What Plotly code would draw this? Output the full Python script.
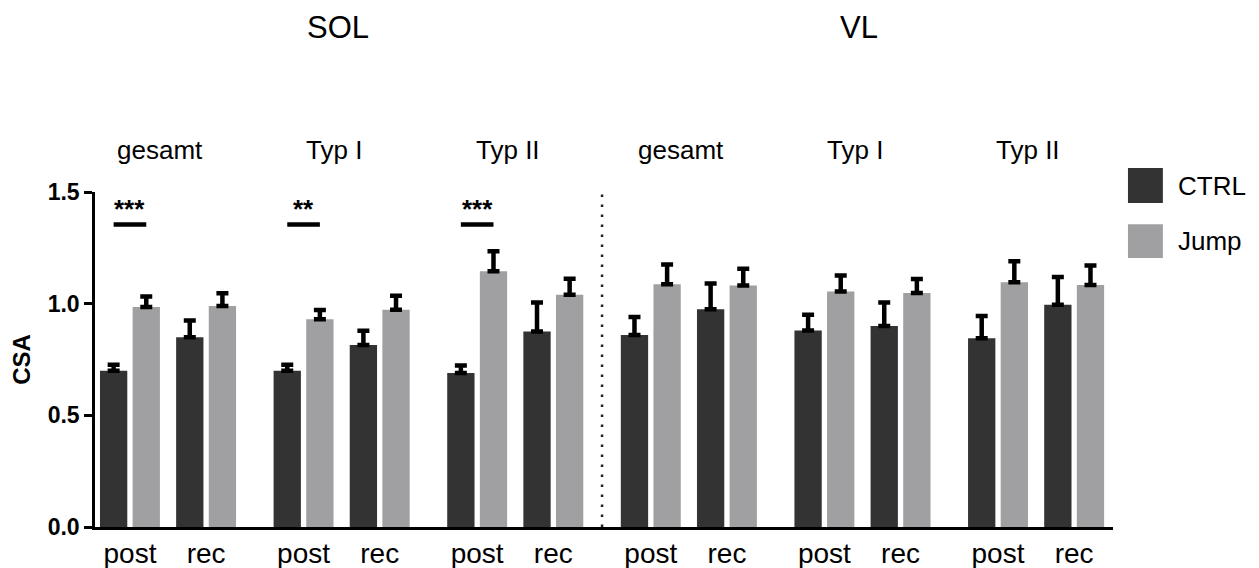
import plotly.graph_objects as go

# ---------------- data ----------------
muscles = ["SOL", "VL"]
fiber_types = ["gesamt", "Typ I", "Typ II"]
timepoints = ["post", "rec"]
series_names = ["CTRL", "Jump"]

# order: SOL gesamt post, rec | SOL Typ I post, rec | SOL Typ II post, rec | VL gesamt ... | VL Typ II
ctrl_mean = [0.70, 0.85, 0.70, 0.815, 0.69, 0.875, 0.86, 0.975, 0.88, 0.90, 0.845, 0.995]
ctrl_sem = [0.027, 0.075, 0.027, 0.064, 0.033, 0.13, 0.08, 0.115, 0.07, 0.105, 0.10, 0.124]
jump_mean = [0.985, 0.99, 0.93, 0.973, 1.145, 1.04, 1.087, 1.081, 1.054, 1.048, 1.096, 1.084]
jump_sem = [0.047, 0.057, 0.042, 0.063, 0.09, 0.072, 0.088, 0.075, 0.072, 0.062, 0.094, 0.087]
significance = ["***", "", "**", "", "***", "", "", "", "", "", "", ""]

y_ticks = [0.0, 0.5, 1.0, 1.5]

# ---------------- layout constants ----------------
FONT = "Arial, 'Liberation Sans', sans-serif"
CTRL_COLOR = "#333333"
JUMP_COLOR = "#a0a0a3"
GROUP_STEP = 2.28
BARGAP = 0.143
BARGROUPGAP = 0.163
n_groups = len(muscles) * len(fiber_types)
PAGE_OFFSET = 8  # default body margin of the html page

xpos = [g * GROUP_STEP + t for g in range(n_groups) for t in range(len(timepoints))]
ticktext = [timepoints[t] for g in range(n_groups) for t in range(len(timepoints))]
slot = (1 - BARGAP) / 2
bar_offset = slot / 2

fig = go.Figure()
for name, mean, sem, color in [
    (series_names[0], ctrl_mean, ctrl_sem, CTRL_COLOR),
    (series_names[1], jump_mean, jump_sem, JUMP_COLOR),
]:
    fig.add_trace(go.Bar(
        x=xpos, y=mean, name=name, marker=dict(color=color, line=dict(width=0)),
        error_y=dict(type="data", symmetric=False, array=sem, arrayminus=[0] * len(sem),
                     color="black", thickness=4.5, width=6),
        showlegend=False,
    ))

shapes = []
annotations = []

# significance markers
for x, s in zip(xpos, significance):
    if s:
        shapes.append(dict(type="line", xref="x", yref="y", x0=x - bar_offset, x1=x + bar_offset,
                           y0=1.354, y1=1.354, line=dict(color="black", width=4.5)))
        annotations.append(dict(x=x, y=1.425, xref="x", yref="y", text=s, showarrow=False,
                                font=dict(family=FONT, size=26, color="black", weight="bold"),
                                yanchor="middle"))

# dotted separator between muscles
sep_x = (len(fiber_types) - 1) * GROUP_STEP + 1 + (GROUP_STEP - 1) / 2
shapes.append(dict(type="line", xref="x", yref="y", x0=sep_x, x1=sep_x, y0=0, y1=1.5,
                   line=dict(color="#222222", width=2.5, dash="2.5px,7.5px")))

# fiber type labels
for mi, m in enumerate(muscles):
    for fi, f in enumerate(fiber_types):
        g = mi * len(fiber_types) + fi
        annotations.append(dict(x=g * GROUP_STEP + 0.4, y=1.125, xref="x", yref="paper", text=f,
                                showarrow=False, font=dict(family=FONT, size=26, color="black"),
                                yanchor="middle"))
    mid = mi * len(fiber_types) + (len(fiber_types) - 1) / 2
    annotations.append(dict(x=mid * GROUP_STEP + 0.45, y=1.49, xref="x", yref="paper", text=m,
                            showarrow=False, font=dict(family=FONT, size=31, color="black"),
                            yanchor="middle"))

# legend (large swatches)
legend_items = [(series_names[0], CTRL_COLOR, 1.0716, 0.967, 1.018),
                (series_names[1], JUMP_COLOR, 0.904, 0.803, 0.854)]
for name, color, y0, y1, yt in legend_items:
    shapes.append(dict(type="rect", xref="paper", yref="paper", x0=1.0147, x1=1.049, y0=y1, y1=y0,
                       fillcolor=color, line=dict(width=0)))
    annotations.append(dict(x=1.062, y=yt, xref="paper", yref="paper", text=name, showarrow=False,
                            xanchor="left", yanchor="middle",
                            font=dict(family=FONT, size=26, color="black")))

fig.update_layout(
    width=1259, height=568,
    margin=dict(l=95 - PAGE_OFFSET, r=146 + PAGE_OFFSET, t=192 - PAGE_OFFSET,
                b=41 + PAGE_OFFSET, autoexpand=False),
    paper_bgcolor="white", plot_bgcolor="white",
    barmode="group", bargap=BARGAP, bargroupgap=BARGROUPGAP,
    shapes=shapes, annotations=annotations,
    font=dict(family=FONT, color="black"),
    xaxis=dict(range=[-0.459, 12.91], tickmode="array", tickvals=xpos, ticktext=ticktext,
               showline=True, linecolor="black", linewidth=2.5, ticks="", showgrid=False,
               zeroline=False, automargin=False,
               tickfont=dict(family=FONT, size=28, color="black")),
    yaxis=dict(range=[0, 1.5], tickmode="array", tickvals=y_ticks, tickformat=".1f",
               showline=True, linecolor="black", linewidth=2.5, ticks="outside", ticklen=8,
               tickwidth=2.5, tickcolor="black", showgrid=False, zeroline=False, automargin=False,
               tickfont=dict(family=FONT, size=23, color="black", weight="bold"),
               title=dict(text="CSA", standoff=14,
                          font=dict(family=FONT, size=24, color="black", weight="bold"))),
)

fig.write_html("out.html")
